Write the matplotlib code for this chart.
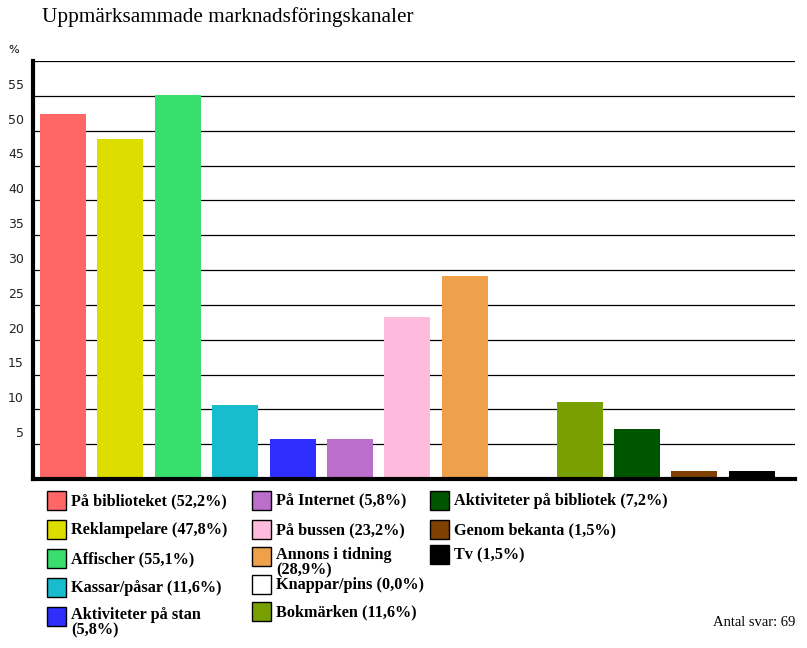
import matplotlib
matplotlib.use("Agg")
import matplotlib.pyplot as plt
from matplotlib.patches import Rectangle

categories = ["På biblioteket", "Reklampelare", "Affischer", "Kassar/påsar",
              "Aktiviteter på stan", "På Internet", "På bussen", "Annons i tidning",
              "Knappar/pins", "Bokmärken", "Aktiviteter på bibliotek",
              "Genom bekanta", "Tv"]
bar_values = [52.4, 48.8, 55.1, 10.6, 5.7, 5.7, 23.3, 29.2, 0.0, 11.0, 7.2, 1.1, 1.1]
legend_pct = ["52,2", "47,8", "55,1", "11,6", "5,8", "5,8", "23,2", "28,9",
              "0,0", "11,6", "7,2", "1,5", "1,5"]
colors = ["#FF6666", "#DDDD00", "#39DF6D", "#17BDCD", "#2E2EFF", "#BB6ECC",
          "#FFBBDD", "#EEA04A", "#FFFFFF", "#78A000", "#005500", "#804000",
          "#000000"]
yticks = [5, 10, 15, 20, 25, 30, 35, 40, 45, 50, 55]
title = "Uppmärksammade marknadsföringskanaler"
n_answers = "Antal svar: 69"

W, H = 807, 648
fig = plt.figure(figsize=(W / 100, H / 100), dpi=100)
ax = fig.add_axes([33 / W, 1 - 479 / H, 762 / W, (479 - 61.2) / H])
ax.set_xlim(-0.5226, 12.753)
ax.set_ylim(0, 60)

for y in yticks + [60]:
    ax.axhline(y, color="black", lw=0.9, zorder=1)

xs = list(range(len(categories)))
ax.bar(xs, bar_values, width=0.80, color=colors, zorder=2)

for s in ["top", "right"]:
    ax.spines[s].set_visible(False)
ax.spines["left"].set_linewidth(3.0)
ax.spines["bottom"].set_linewidth(3.0)
ax.set_xticks([])
ax.set_yticks([])

for y in yticks:
    ax.text(-0.012, y + 0.6, str(y), transform=ax.get_yaxis_transform(),
            ha="right", va="bottom", fontsize=9, family="DejaVu Sans",
            color="#222222")
fig.text(14 / W, 1 - 50 / H, "%", ha="center", va="center", fontsize=8,
         family="DejaVu Sans")

fig.text(42 / W, 1 - 17 / H, title, ha="left", va="center", fontsize=15.3,
         family="Liberation Serif")

# legend, three columns laid out like the reference
cols = [(47, [0, 1, 2, 3, 4], [501, 530, 559, 588, 617]),
        (252, [5, 6, 7, 8, 9], [501, 530, 557, 585, 612]),
        (430, [10, 11, 12], [501, 530, 555])]
wrapped = ("Aktiviteter på stan", "Annons i tidning")
for x0, idxs, rows in cols:
    for r, i in enumerate(idxs):
        yc = rows[r]
        fig.add_artist(Rectangle((x0 / W, 1 - (yc + 9) / H), 19 / W, 19 / H,
                                 transform=fig.transFigure, facecolor=colors[i],
                                 edgecolor="black", lw=1.0))
        if categories[i] in wrapped:
            label = f"{categories[i]}\n({legend_pct[i]}%)"
            fig.text((x0 + 24) / W, 1 - (yc - 10) / H, label, ha="left",
                     va="top", fontsize=11.7, weight="bold",
                     family="Liberation Serif", linespacing=0.95)
        else:
            label = f"{categories[i]} ({legend_pct[i]}%)"
            fig.text((x0 + 24) / W, 1 - yc / H, label, ha="left", va="center",
                     fontsize=11.7, weight="bold", family="Liberation Serif")

fig.text(795 / W, 1 - 622 / H, n_answers, ha="right", va="center",
         fontsize=10.5, family="Liberation Serif")

fig.savefig("out.png", dpi=100)
